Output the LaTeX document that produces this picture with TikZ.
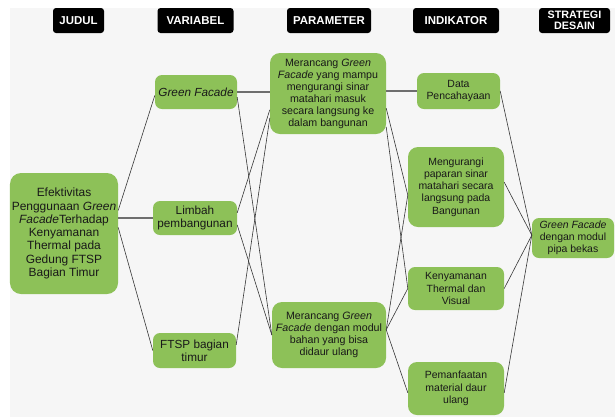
\documentclass[tikz,border=0pt]{standalone}
\usepackage{fontspec}
\setmainfont{Liberation Sans}
\usetikzlibrary{calc}
\definecolor{gbox}{RGB}{141,193,88}
\definecolor{bgray}{RGB}{246,246,246}
\definecolor{lnk}{RGB}{55,55,55}
\definecolor{hlnk}{RGB}{110,110,110}
\tikzset{
  hdr/.style={fill=black, text=white, rounded corners=3bp, inner sep=0pt, align=center,
    minimum height=25bp, font=\bfseries\fontsize{11.5}{12}\selectfont},
  gbox/.style={fill=gbox, rounded corners=7bp, inner sep=0pt, align=center, text=black!90},
  fmain/.style={font=\fontsize{12}{13.3}\selectfont},
  fvar/.style={font=\fontsize{11.8}{12.7}\selectfont},
  fpar/.style={font=\fontsize{10.7}{12}\selectfont},
  find/.style={font=\fontsize{10.5}{12.3}\selectfont},
  link/.style={draw=lnk, line width=0.6bp},
  hlink/.style={draw=hlnk, line width=1.1bp},
}
\begin{document}
\begin{tikzpicture}[x=1bp,y=-1bp]
\useasboundingbox (0,0) rectangle (615,417);
\fill[white] (0,0) rectangle (615,417);
\fill[bgray] (10,8) rectangle (615,417);

% headers
\node[hdr, minimum width=51bp] (hJ) at (78.5,20.5) {JUDUL};
\node[hdr, minimum width=76bp] (hV) at (195.5,20.5) {VARIABEL};
\node[hdr, minimum width=84bp] (hP) at (329,20.5) {PARAMETER};
\node[hdr, minimum width=86bp] (hI) at (456,20.5) {INDIKATOR};
\node[hdr, minimum width=71bp, font=\bfseries\fontsize{10.8}{11.5}\selectfont] (hS) at (574.5,20.5) {STRATEGI\\DESAIN};

% main
\node[gbox, fmain, rounded corners=11bp, minimum width=108bp, minimum height=121bp] (main) at (64,233.5)
  {Efektivitas\\Penggunaan \textit{Green}\\\textit{Facade}Terhadap\\Kenyamanan\\Thermal pada\\Gedung FTSP\\Bagian Timur};

% variabel
\node[gbox, fvar, minimum width=82bp, minimum height=34bp] (v1) at (196,92) {\textit{Green Facade}};
\node[gbox, fvar, minimum width=84bp, minimum height=34bp] (v2) at (195,218) {Limbah\\pembangunan};
\node[gbox, fvar, minimum width=83bp, minimum height=35bp] (v3) at (194.5,350.5) {FTSP bagian\\timur};

% parameter
\node[gbox, fpar, rounded corners=10bp, minimum width=116bp, minimum height=81bp] (p1) at (328,93.5)
  {Merancang \textit{Green}\\\textit{Facade} yang mampu\\mengurangi sinar\\matahari masuk\\secara langsung ke\\dalam bangunan};
\node[gbox, fpar, rounded corners=10bp, minimum width=114bp, minimum height=66bp] (p2) at (329,335)
  {Merancang \textit{Green}\\\textit{Facade} dengan modul\\bahan yang bisa\\didaur ulang};

% indikator
\node[gbox, find, minimum width=83bp, minimum height=36bp] (i1) at (458.5,91) {Data\\Pencahayaan};
\node[gbox, find, rounded corners=10bp, minimum width=96bp, minimum height=80bp] (i2) at (456,187)
  {Mengurangi\\paparan sinar\\matahari secara\\langsung pada\\Bangunan};
\node[gbox, find, minimum width=96bp, minimum height=43bp] (i3) at (456,288.5) {Kenyamanan\\Thermal dan\\Visual};
\node[gbox, find, rounded corners=9bp, minimum width=96bp, minimum height=53bp] (i4) at (456,388.5) {Pemanfaatan\\material daur\\ulang};

% strategi
\node[gbox, find, minimum width=82bp, minimum height=40bp] (s1) at (573,238)
  {\textit{Green Facade}\\dengan modul\\pipa bekas};

% connectors: judul -> variabel
\draw[link] ($(main.north east)!0.31!(main.south east)$) -- ($(v1.north west)!0.6!(v1.south west)$);
\draw[hlink] (main.east |- v2.west) -- (v2.west);
\draw[link] ($(main.north east)!0.45!(main.south east)$) -- (v3.west);

% variabel -> parameter
\draw[hlink] (v1.east) -- (v1.east -| p1.west);
\draw[link] ($(v1.north east)!0.65!(v1.south east)$) -- (p2.west);
\draw[link] ($(v2.north east)!0.35!(v2.south east)$) -- ($(p1.north west)!0.70!(p1.south west)$);
\draw[link] ($(v2.north east)!0.70!(v2.south east)$) -- (p2.west);
\draw[link] ($(v3.north east)!0.34!(v3.south east)$) -- ($(p1.north west)!0.80!(p1.south west)$);

% parameter -> indikator
\draw[hlink] (p1.east |- i1.west) -- (i1.west);
\coordinate (p2out) at ($(p2.north east)!0.42!(p2.south east)$);
\draw[link] ($(p1.north east)!0.68!(p1.south east)$) -- ($(i2.north west)!0.6!(i2.south west)$);
\draw[link] ($(p1.north east)!0.91!(p1.south east)$) -- (i3.west);
\draw[link] (p2out) -- ($(i2.north west)!0.6!(i2.south west)$);
\draw[link] (p2out) -- (i3.west);
\draw[link] (p2out) -- ($(i4.north west)!0.58!(i4.south west)$);

% indikator -> strategi
\coordinate (sin) at ($(s1.north west)!0.43!(s1.south west)$);
\draw[link] (i1.east) -- (sin);
\draw[link] ($(i2.north east)!0.44!(i2.south east)$) -- (sin);
\draw[link] (i3.east) -- (sin);
\draw[link] ($(i4.north east)!0.58!(i4.south east)$) -- (sin);
\end{tikzpicture}
\end{document}
